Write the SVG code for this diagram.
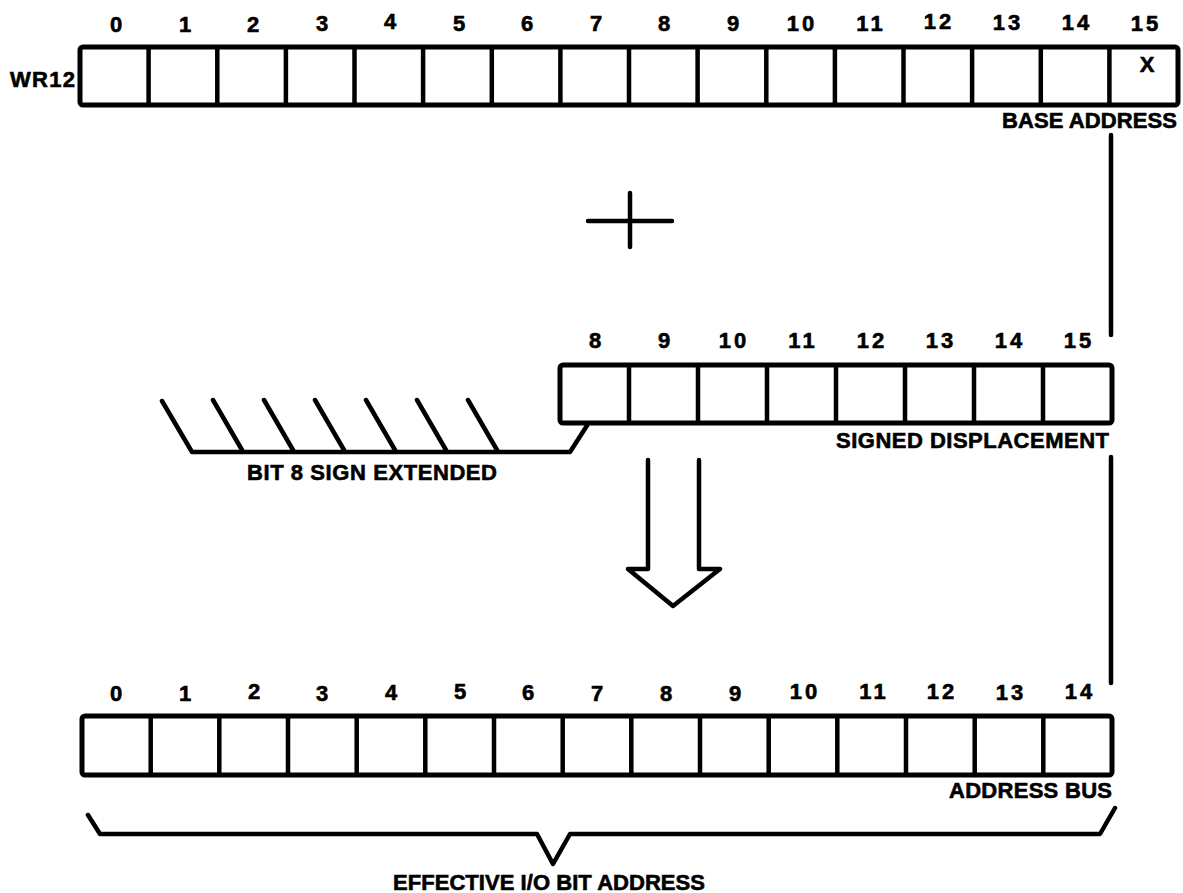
<svg xmlns="http://www.w3.org/2000/svg" width="1183" height="893" viewBox="0 0 1183 893">
<style>
.box{fill:none;stroke:#000;stroke-width:5;stroke-linejoin:round}
.div{stroke:#000;stroke-width:4.5}
.ln{fill:none;stroke:#000;stroke-width:4.5;stroke-linecap:round;stroke-linejoin:round}
.num{font-family:"Liberation Sans",Arial,sans-serif;font-weight:bold;font-size:22px;text-anchor:middle;fill:#000;stroke:#000;stroke-width:0.6}
.lbl{font-family:"Liberation Sans",Arial,sans-serif;font-weight:bold;font-size:22px;fill:#000;stroke:#000;stroke-width:0.6}
</style>
<rect width="1183" height="893" fill="#fff"/>

<g id="reg-wr12">
<text class="lbl" x="10" y="87" textLength="65" lengthAdjust="spacing">WR12</text>
<g class="num">
<text x="116" y="32">0</text><text x="185" y="32">1</text><text x="253" y="32">2</text><text x="322" y="31">3</text>
<text x="390" y="29">4</text><text x="459" y="31">5</text><text x="527" y="31">6</text><text x="596" y="31">7</text>
<text x="664" y="31">8</text><text x="733" y="31">9</text><text x="802" y="31" letter-spacing="3">10</text><text x="871" y="31" letter-spacing="3">11</text>
<text x="939" y="29" letter-spacing="3">12</text><text x="1008" y="30" letter-spacing="3">13</text><text x="1077" y="30" letter-spacing="3">14</text><text x="1146" y="31" letter-spacing="3">15</text>
</g>
<rect class="box" x="80" y="47" width="1098" height="58" rx="3"/>
<path class="div" d="M148.6,47V105M217.3,47V105M285.9,47V105M354.5,47V105M423.1,47V105M491.8,47V105M560.4,47V105M629,47V105M697.6,47V105M766.3,47V105M834.9,47V105M903.5,47V105M972.1,47V105M1040.8,47V105M1109.4,47V105"/>
<text class="num" x="1147" y="72">X</text>
<text class="lbl" x="1002" y="128" textLength="175" lengthAdjust="spacing">BASE ADDRESS</text>
</g>

<g id="plus">
<path class="ln" d="M588,221H672M630,193V247"/>
</g>

<g id="reg-disp">
<g class="num">
<text x="595" y="348">8</text><text x="664" y="348">9</text><text x="734" y="348" letter-spacing="3">10</text><text x="803" y="348" letter-spacing="3">11</text>
<text x="872" y="348" letter-spacing="3">12</text><text x="941" y="348" letter-spacing="3">13</text><text x="1010" y="348" letter-spacing="3">14</text><text x="1079" y="348" letter-spacing="3">15</text>
</g>
<rect class="box" x="560" y="365" width="552" height="58" rx="3"/>
<path class="div" d="M629,365V423M698,365V423M767,365V423M836,365V423M905,365V423M974,365V423M1043,365V423"/>
<text class="lbl" x="836" y="448" textLength="273" lengthAdjust="spacing">SIGNED DISPLACEMENT</text>
</g>

<g id="sign-ext">
<path class="ln" d="M162,401L192,452H570L588,424"/>
<path class="ln" d="M213,400L242,450M264,400L293,450M315,400L344,450M366,400L395,450M417,400L446,450M468,400L497,450"/>
<text class="lbl" x="247" y="480" textLength="250" lengthAdjust="spacing">BIT 8 SIGN EXTENDED</text>
</g>

<g id="arrow">
<path class="ln" d="M648,460V569H628L673,606L720,569H699V460"/>
</g>

<g id="reg-bus">
<g class="num">
<text x="116" y="701">0</text><text x="185" y="701">1</text><text x="254" y="699">2</text><text x="322" y="701">3</text>
<text x="391" y="700">4</text><text x="460" y="699">5</text><text x="528" y="700">6</text><text x="597" y="701">7</text>
<text x="666" y="701">8</text><text x="735" y="701">9</text><text x="805" y="699" letter-spacing="3">10</text><text x="874" y="699" letter-spacing="3">11</text>
<text x="942" y="699" letter-spacing="3">12</text><text x="1011" y="700" letter-spacing="3">13</text><text x="1080" y="699" letter-spacing="3">14</text>
</g>
<rect class="box" x="82" y="716" width="1030" height="59" rx="3"/>
<path class="div" d="M150.7,716V775M219.3,716V775M288,716V775M356.7,716V775M425.3,716V775M494,716V775M562.7,716V775M631.3,716V775M700,716V775M768.7,716V775M837.3,716V775M906,716V775M974.7,716V775M1043.3,716V775"/>
<text class="lbl" x="949" y="798" textLength="163" lengthAdjust="spacing">ADDRESS BUS</text>
</g>

<g id="brace">
<path class="ln" d="M88,815L100,834H537L553,864L570,834H1100L1115,808"/>
<text class="lbl" x="393" y="890" textLength="312" lengthAdjust="spacing">EFFECTIVE I/O BIT ADDRESS</text>
</g>

<g id="connectors">
<path class="ln" d="M1111,135V335M1111,457V683"/>
</g>
</svg>
